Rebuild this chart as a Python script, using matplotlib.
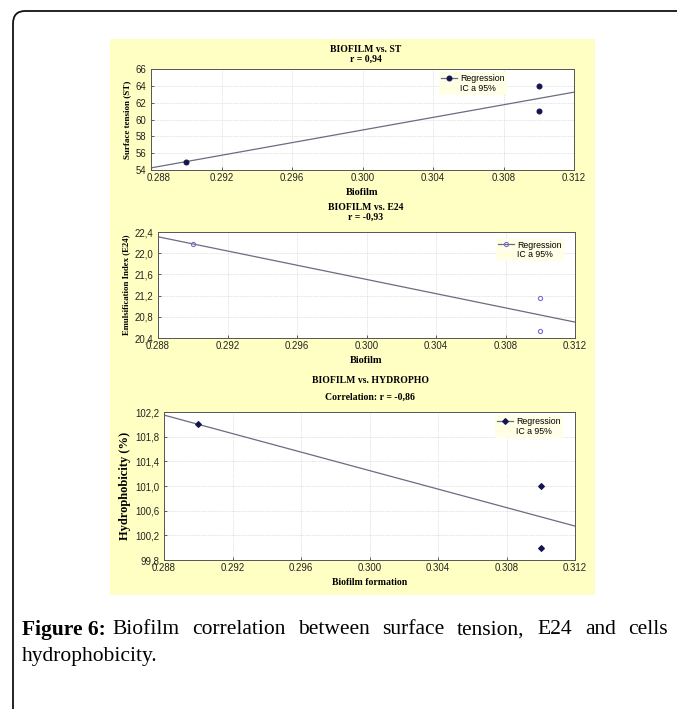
"""Biofilm correlation panels (ST, E24, hydrophobicity) with caption."""
import matplotlib
matplotlib.use("Agg")
import matplotlib.pyplot as plt
import matplotlib.transforms as mtransforms
from matplotlib.patches import FancyBboxPatch, Rectangle
from matplotlib.ticker import FuncFormatter

# --- data ---
biofilm = [0.290, 0.310, 0.310]
st_vals = [55.0, 64.0, 61.0]
e24_vals = [22.18, 21.15, 20.53]
hydro_vals = [102.0, 101.0, 100.0]

reg_x = [0.288, 0.312]
st_reg = [54.25, 63.25]
e24_reg = [22.31, 20.70]
hydro_reg = [102.15, 100.35]

x_ticks = [0.288, 0.292, 0.296, 0.300, 0.304, 0.308, 0.312]
st_ticks = [54, 56, 58, 60, 62, 64, 66]
e24_ticks = [20.4, 20.8, 21.2, 21.6, 22.0, 22.4]
hydro_ticks = [99.8, 100.2, 100.6, 101.0, 101.4, 101.8, 102.2]

caption_line1 = "Biofilm correlation between surface tension, E24 and cells"
caption_line2 = "hydrophobicity."

W, H = 677, 709
PANEL = "#FFFFC4"
LINE = "#6b6b82"
SERIF = ["Liberation Serif", "DejaVu Serif"]
SANS = ["Liberation Sans", "DejaVu Sans"]

plt.rcParams["font.family"] = SANS

fig = plt.figure(figsize=(W / 100, H / 100), dpi=100)
fig.patch.set_facecolor("white")


def fx(px):
    return px / W


def fy(py):
    return 1 - py / H


# outer rounded frame (runs off the right and bottom edge)
frame = FancyBboxPatch((fx(13), fy(740)), fx(740 - 13), fy(11) - fy(740),
                       boxstyle="round,pad=0,rounding_size=0.018",
                       transform=fig.transFigure, fill=False,
                       ec="#111111", lw=1.3, clip_on=False, zorder=-2)
fig.add_artist(frame)

# yellow figure panel
fig.add_artist(Rectangle((fx(110), fy(595)), fx(595 - 110), fy(39) - fy(595),
                         transform=fig.transFigure, fc=PANEL, ec="none",
                         zorder=-1))


def comma(v, nd):
    return f"{v:.{nd}f}".replace(".", ",")


def make_panel(rect, y, reg, yticks, ylim, marker, mfc, mec, ms,
               ylabel, ylab_size, xlabel, leg_xy, nd):
    ax = fig.add_axes(rect)
    ax.set_facecolor("white")
    ax.plot(reg_x, reg, color=LINE, lw=0.9, zorder=2)
    ax.plot(biofilm, y, ls="none", marker=marker, ms=ms, mfc=mfc, mec=mec,
            mew=0.8, zorder=3)
    ax.set_xlim(0.288, 0.312)
    ax.set_ylim(*ylim)
    ax.set_xticks(x_ticks)
    ax.set_xticklabels([f"{t:.3f}" for t in x_ticks])
    ax.set_yticks(yticks)
    if nd is None:
        ax.set_yticklabels([f"{t:g}" for t in yticks])
    else:
        ax.yaxis.set_major_formatter(FuncFormatter(lambda v, p: comma(v, nd)))
    ax.grid(True, color="#c8c8c8", lw=0.5, ls=(0, (1, 1.5)))
    ax.tick_params(direction="in", length=2, width=0.5, labelsize=6.9,
                   colors="#222222")
    ax.tick_params(axis="y", pad=3.5)
    ax.tick_params(axis="x", pad=2.5)
    for s in ax.spines.values():
        s.set_color("#555555")
        s.set_linewidth(0.7)
    ax.set_ylabel(ylabel, family=SERIF, fontweight="bold", fontsize=ylab_size,
                  labelpad=3)
    ax.set_xlabel(xlabel, family=SERIF, fontweight="bold",
                  fontsize=7.5 if xlabel == "Biofilm" else 7, labelpad=3)

    h_reg, = ax.plot([], [], color=LINE, lw=0.9, marker=marker, ms=ms,
                     mfc=mfc, mec=mec, mew=0.8)
    h_ic, = ax.plot([], [], color=PANEL, lw=0.6)
    leg = ax.legend([h_reg, h_ic], ["Regression", "IC a 95%"],
                    loc="upper left", bbox_to_anchor=leg_xy,
                    fontsize=6.3, frameon=True, fancybox=False,
                    borderpad=0.25, labelspacing=0.05, handlelength=1.8,
                    handletextpad=0.4, borderaxespad=0)
    leg.get_frame().set_facecolor("#FFFFE8")
    leg.get_frame().set_edgecolor("none")
    leg.get_frame().set_alpha(1)
    return ax


# panel 1: surface tension
ax1 = make_panel([fx(151), fy(170), fx(574 - 151), fy(69) - fy(170)],
                 st_vals, st_reg, st_ticks, (54, 66),
                 "o", "#141450", "#141450", 3.5,
                 "Surface tension (ST)", 6.5, "Biofilm", (0.68, 0.97), None)
# first x label sits a little right of its tick, clear of "54"
first = ax1.get_xticklabels()[0]
first.set_transform(first.get_transform() + mtransforms.ScaledTranslation(
    8 / 100, 0, fig.dpi_scale_trans))
fig.text(fx(366), fy(50), "BIOFILM vs. ST", ha="center", va="center",
         family=SERIF, fontweight="bold", fontsize=7)
fig.text(fx(366), fy(59.5), "r = 0,94", ha="center", va="center",
         family=SERIF, fontweight="bold", fontsize=7)

# panel 2: emulsification index
make_panel([fx(158), fy(338), fx(575 - 158), fy(232) - fy(338)],
           e24_vals, e24_reg, e24_ticks, (20.4, 22.4),
           "o", "none", "#7070d0", 3.0,
           "Emulsification Index (E24)", 6.3, "Biofilm", (0.81, 0.94), 1)
fig.text(fx(366), fy(207), "BIOFILM vs. E24", ha="center", va="center",
         family=SERIF, fontweight="bold", fontsize=7)
fig.text(fx(366), fy(217), "r = -0,93", ha="center", va="center",
         family=SERIF, fontweight="bold", fontsize=7)

# panel 3: hydrophobicity
make_panel([fx(164), fy(560), fx(575 - 164), fy(412) - fy(560)],
           hydro_vals, hydro_reg, hydro_ticks, (99.8, 102.2),
           "D", "#141450", "#141450", 3.0,
           "Hydrophobicity (%)", 9, "Biofilm formation", (0.805, 0.98), 1)
fig.text(fx(370), fy(380), "BIOFILM vs. HYDROPHO", ha="center", va="center",
         family=SERIF, fontweight="bold", fontsize=7)
fig.text(fx(370), fy(397), "Correlation: r = -0,86", ha="center", va="center",
         family=SERIF, fontweight="bold", fontsize=7)

# caption: first line is justified between the label and the right margin
CAP = 15.5
fig.text(fx(22), fy(630), "Figure 6:", ha="left", va="center",
         family=SERIF, fontweight="bold", fontsize=CAP)
words = caption_line1.split()
renderer = fig.canvas.get_renderer()
word_txt = [fig.text(0, fy(630), w, ha="left", va="center",
                     family=SERIF, fontsize=CAP) for w in words]
widths = [t.get_window_extent(renderer).width for t in word_txt]
x0, x1 = 112, 668
gap = (x1 - x0 - sum(widths)) / (len(words) - 1)
xpos = x0
for t, w in zip(word_txt, widths):
    t.set_x(fx(xpos))
    xpos += w + gap
fig.text(fx(22), fy(657), caption_line2, ha="left", va="center",
         family=SERIF, fontsize=CAP)

fig.savefig("out.png", dpi=100)
